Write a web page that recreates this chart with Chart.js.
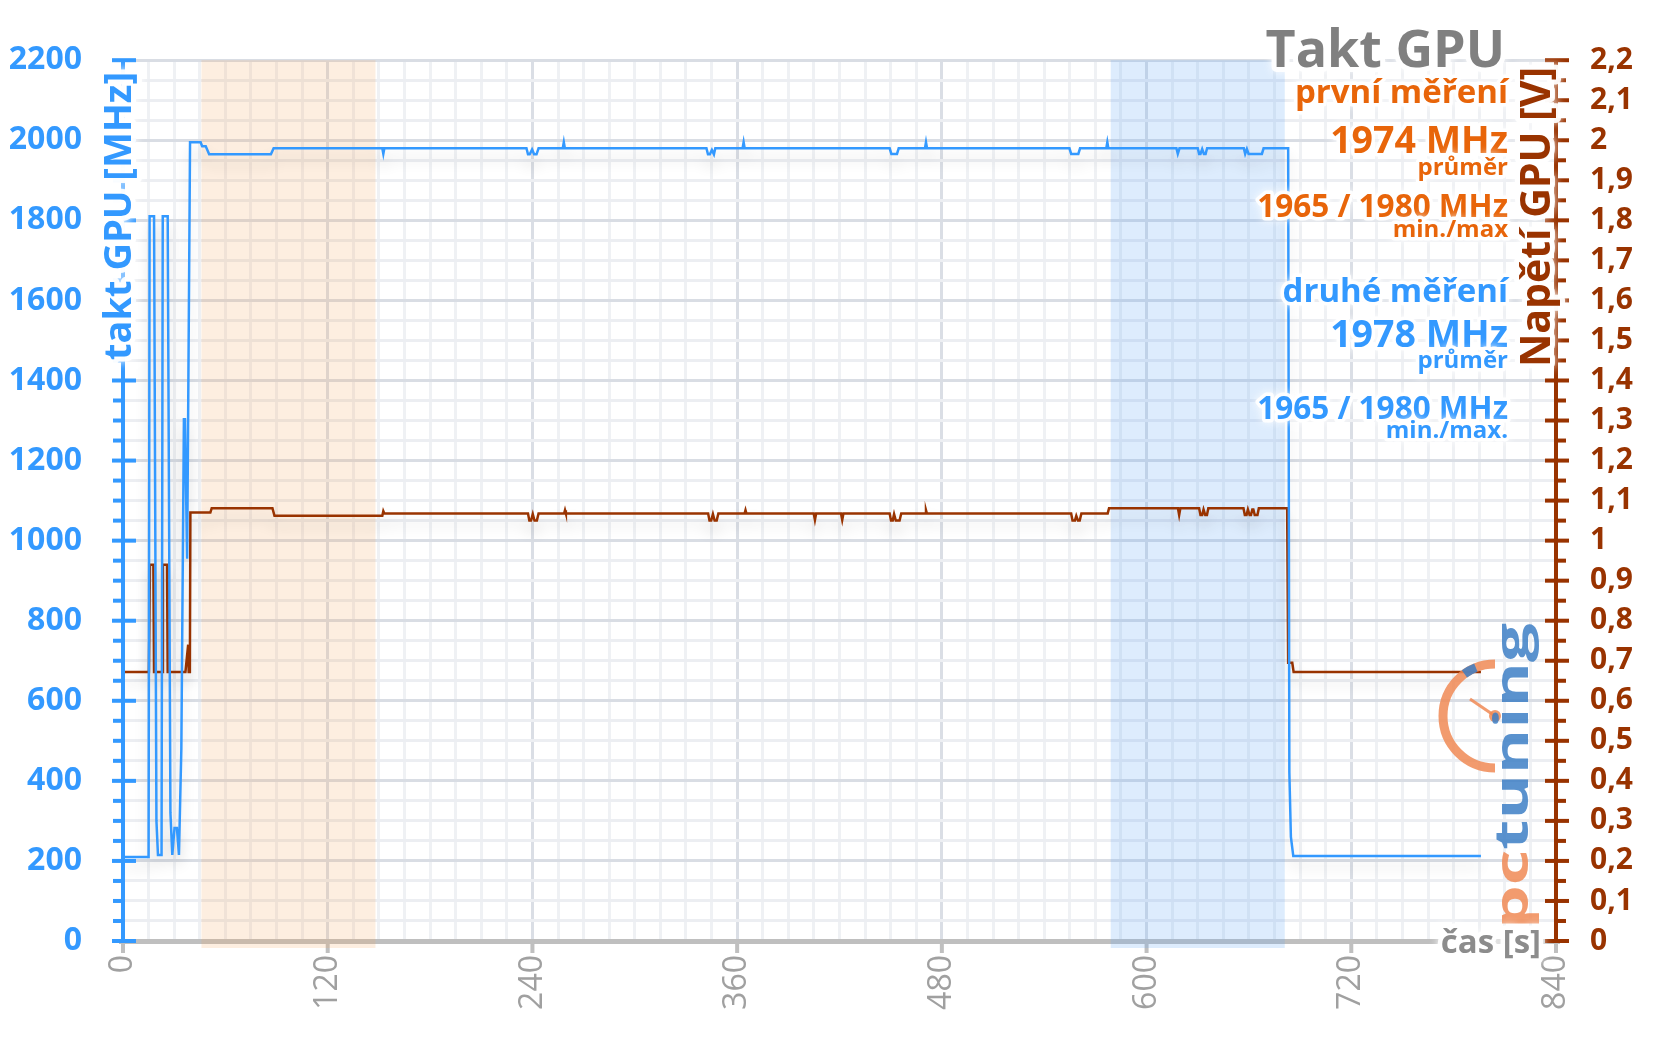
<!DOCTYPE html>
<html>
<head>
<meta charset="utf-8">
<title>Takt GPU</title>
<script src="https://cdn.jsdelivr.net/npm/chart.js@4/dist/chart.umd.min.js"></script>
<style>
  html, body { margin: 0; padding: 0; background: #fff; }
  #graf { width: 1656px; height: 1044px; position: relative; }
</style>
</head>
<body>
<div id="graf"><canvas id="c"></canvas></div>
<script>
// takt GPU [MHz] v case [s]
var casTakt = [0, 15, 15.6, 18.2, 19.6, 20.5, 22.6, 23.3, 26.2, 27.8, 28.9, 30.2, 31.6, 32.8, 34.2, 35.7, 36.3, 37.6, 39.3,
  45.5, 46.4, 48.5, 50.5, 86.7, 88.3, 152, 152.6, 153.2, 236.5, 237.4, 238.4, 239.8, 241, 242.4, 243.6,
  257.8, 258.4, 259, 342, 342.9, 344, 345.2, 346.4, 347.2, 363.2, 363.8, 364.4, 449.4, 450.4, 453.7, 454.7,
  470.1, 470.7, 471.3, 554.8, 555.8, 560, 561, 576.4, 577, 577.6, 617.5, 618.3, 619.3,
  630, 630.8, 631.6, 632.6, 633.6, 634.6, 635.5, 657, 657.8, 658.8, 659.8, 667.6, 668.6,
  683, 683.7, 684.6, 686, 796]
var taktMHz = [210, 210, 1810, 1810, 300, 215, 215, 1810, 1810, 320, 215, 282, 282, 215, 480, 1303, 1303, 955, 1995,
  1995, 1985, 1985, 1965, 1965, 1980, 1980, 1966, 1980, 1980, 1965, 1965, 1977, 1965, 1965, 1980,
  1980, 1995, 1980, 1980, 1965, 1965, 1976, 1965, 1980, 1980, 1995, 1980, 1980, 1966, 1966, 1980,
  1980, 1995, 1980, 1980, 1966, 1966, 1980, 1980, 1995, 1980, 1980, 1966, 1980,
  1980, 1966, 1966, 1978, 1966, 1966, 1980, 1980, 1966, 1978, 1966, 1966, 1980,
  1980, 420, 260, 212, 212]

// napeti GPU [V] v case [s]
var casNapeti = [0, 15.2, 15.8, 17.8, 18.2, 23, 23.4, 25.8, 26.2, 36.6, 38.2, 38.5, 39.2, 39.5,
  51.2, 52, 87.6, 88.8, 152, 152.6, 153.2, 237.4, 238.2, 239.2, 240.2, 241.2, 242.6, 243.6,
  258.6, 259.1, 259.6, 343, 343.8, 344.8, 345.8, 346.8, 348, 349, 364.4, 364.9, 365.4,
  404.9, 405.6, 406.3, 420.9, 421.6, 422.3, 449.4, 450.2, 451.2, 452, 453, 455.2, 456.2,
  470.2, 470.7, 471.2, 555.8, 556.6, 558, 558.8, 559.8, 560.8, 561.8, 577.2, 578,
  618.4, 619.1, 619.8, 630.8, 631.6, 632.6, 633.4, 634.4, 635.4, 636.2,
  656.8, 657.6, 658.6, 659.4, 660.4, 661.2, 662, 662.6, 663.4, 665, 665.8,
  682.4, 683, 685.4, 686.2, 796]
var napetiV = [0.672, 0.672, 0.94, 0.94, 0.672, 0.672, 0.94, 0.94, 0.672, 0.672, 0.74, 0.672, 0.672, 1.07,
  1.07, 1.081, 1.081, 1.062, 1.062, 1.074, 1.068, 1.068, 1.05, 1.05, 1.066, 1.05, 1.05, 1.068,
  1.068, 1.076, 1.068, 1.068, 1.05, 1.05, 1.066, 1.05, 1.05, 1.068, 1.068, 1.076, 1.068,
  1.068, 1.052, 1.068, 1.068, 1.052, 1.068, 1.068, 1.05, 1.05, 1.066, 1.05, 1.05, 1.068,
  1.068, 1.076, 1.068, 1.068, 1.05, 1.05, 1.062, 1.05, 1.05, 1.068, 1.068, 1.081,
  1.081, 1.064, 1.081, 1.081, 1.064, 1.064, 1.078, 1.064, 1.064, 1.081,
  1.081, 1.064, 1.064, 1.078, 1.064, 1.064, 1.078, 1.078, 1.064, 1.064, 1.081,
  1.081, 0.695, 0.695, 0.672, 0.672]

// zvyraznene useky mereni [s]
var pasmaOd = [46, 579]
var pasmaDo = [148, 681]

var nadpis = 'Takt GPU'
var prvniMereni = ['první měření', '1974 MHz', 'průměr', '1965 / 1980 MHz', 'min./max']
var druheMereni = ['druhé měření', '1978 MHz', 'průměr', '1965 / 1980 MHz', 'min./max.']
var osaTakt = 'takt GPU [MHz]'
var osaNapeti = 'Napětí GPU [V]'
var osaCas = 'čas [s]'

var MODRA = '#3399ff', HNEDA = '#993300', ORANZ = '#e8650a', SEDA = '#808080'
var FONT = "'Open Sans', 'Noto Sans', sans-serif"

function body(cas, hodnoty) {
  return cas.map(function (t, i) { return { x: t, y: hodnoty[i] } })
}

function jeHlavni(v, krok) {
  return Math.abs(v / krok - Math.round(v / krok)) < 1e-6
}

function haloText(ctx, text, x, y, sirka) {
  ctx.save()
  ctx.lineJoin = 'round'
  ctx.strokeStyle = 'rgba(255,255,255,0.92)'
  ctx.lineWidth = sirka || 8
  ctx.shadowColor = '#fff'
  ctx.shadowBlur = 8
  ctx.strokeText(text, x, y)
  ctx.restore()
  ctx.fillText(text, x, y)
}

var pozadi = {
  id: 'pozadi',
  beforeDatasetsDraw: function (chart) {
    var ctx = chart.ctx, ca = chart.chartArea, sx = chart.scales.x
    ctx.save()
    // osa x
    ctx.fillStyle = '#bfbfbf'
    ctx.fillRect(ca.left - 4, ca.bottom - 2, ca.right - ca.left + 8, 5)
    sx.ticks.forEach(function (t) {
      if (jeHlavni(t.value, 120)) ctx.fillRect(sx.getPixelForValue(t.value) - 2, ca.bottom, 4, 12)
    })
    // pasma
    var barvy = ['rgba(247,170,100,0.2)', 'rgba(100,170,245,0.22)']
    for (var i = 0; i < pasmaOd.length; i++) {
      var x1 = sx.getPixelForValue(pasmaOd[i]), x2 = sx.getPixelForValue(pasmaDo[i])
      ctx.fillStyle = barvy[i]
      ctx.fillRect(x1, ca.top, x2 - x1, ca.bottom - ca.top + 7)
    }
    ctx.restore()
  },
  beforeDatasetDraw: function (chart) {
    var ctx = chart.ctx
    ctx.save()
    ctx.shadowColor = 'rgba(0,0,0,0.16)'
    ctx.shadowBlur = 14
    ctx.shadowOffsetY = 10
  },
  afterDatasetDraw: function (chart) {
    chart.ctx.restore()
  }
}

var popis = {
  id: 'popis',
  afterDatasetsDraw: function (chart) {
    var ctx = chart.ctx, ca = chart.chartArea
    var sy = chart.scales.y, sy2 = chart.scales.y2
    ctx.save()

    // logo
    ctx.save()
    ctx.globalAlpha = 0.85
    ctx.strokeStyle = '#f08a55'
    ctx.lineWidth = 9
    ctx.beginPath()
    ctx.arc(1495, 716, 52, Math.PI / 2, Math.PI * 1.5)
    ctx.stroke()
    ctx.strokeStyle = '#3d7fc6'
    ctx.beginPath()
    ctx.arc(1495, 716, 52, Math.PI * 1.3, Math.PI * 1.38)
    ctx.stroke()
    ctx.strokeStyle = '#f08a55'
    ctx.lineWidth = 3
    ctx.beginPath()
    ctx.moveTo(1495, 716)
    ctx.lineTo(1470, 699)
    ctx.stroke()
    ctx.fillStyle = '#f08a55'
    ctx.beginPath()
    ctx.arc(1495, 716, 6, 0, Math.PI * 2)
    ctx.fill()
    ctx.translate(1528, 929)
    ctx.rotate(-Math.PI / 2)
    ctx.font = 'bold 46px ' + FONT
    var wPc = ctx.measureText('pc').width, wTun = ctx.measureText('tuning').width
    ctx.scale(306 / (wPc + wTun), 1)
    ctx.fillStyle = '#f08a55'
    ctx.fillText('pc', 0, 0)
    ctx.fillStyle = '#3d7fc6'
    ctx.fillText('tuning', wPc, 0)
    ctx.restore()

    // leva osa
    ctx.fillStyle = MODRA
    ctx.fillRect(ca.left - 2, ca.top, 4, ca.bottom - ca.top + 2)
    sy.ticks.forEach(function (t) {
      var py = sy.getPixelForValue(t.value)
      if (jeHlavni(t.value, 200)) ctx.fillRect(ca.left - 11, py - 2, 24, 4)
      else ctx.fillRect(ca.left - 10, py - 2, 10, 4)
    })
    // prava osa
    ctx.fillStyle = HNEDA
    ctx.fillRect(ca.right - 2, ca.top, 4, ca.bottom - ca.top + 2)
    sy2.ticks.forEach(function (t) {
      var py = sy2.getPixelForValue(t.value)
      if (jeHlavni(t.value, 0.1)) ctx.fillRect(ca.right - 11, py - 2, 24, 4)
      else ctx.fillRect(ca.right, py - 2, 10, 4)
    })

    // cas [s]
    ctx.textAlign = 'right'
    ctx.textBaseline = 'alphabetic'
    ctx.font = 'bold 33px ' + FONT
    ctx.fillStyle = '#8c8c8c'
    haloText(ctx, osaCas, 1541, 953, 9)

    // nazvy os
    ctx.save()
    ctx.translate(131, 216)
    ctx.rotate(-Math.PI / 2)
    ctx.textAlign = 'center'
    ctx.font = 'bold 38px ' + FONT
    ctx.fillStyle = MODRA
    haloText(ctx, osaTakt, 0, 0, 10)
    ctx.restore()

    ctx.save()
    ctx.translate(1550, 217)
    ctx.rotate(-Math.PI / 2)
    ctx.textAlign = 'center'
    ctx.font = 'bold 41px ' + FONT
    ctx.fillStyle = HNEDA
    haloText(ctx, osaNapeti, 0, 0, 10)
    ctx.restore()

    // nadpis a souhrn
    var x = 1508
    ctx.textAlign = 'right'
    ctx.fillStyle = SEDA
    ctx.font = 'bold 52px ' + FONT
    haloText(ctx, nadpis, 1505, 67, 10)

    var velikosti = [33, 37.5, 24, 31.5, 24]
    var radky1 = [103, 153, 175, 217, 237]
    var radky2 = [302, 347, 368, 419, 438]
    ctx.fillStyle = ORANZ
    prvniMereni.forEach(function (s, i) {
      ctx.font = 'bold ' + velikosti[i] + 'px ' + FONT
      haloText(ctx, s, x, radky1[i], 7)
    })
    ctx.fillStyle = MODRA
    druheMereni.forEach(function (s, i) {
      ctx.font = 'bold ' + velikosti[i] + 'px ' + FONT
      haloText(ctx, s, x, radky2[i], 7)
    })
    ctx.restore()
  }
}

Chart.defaults.font.family = FONT

new Chart(document.getElementById('c'), {
  type: 'line',
  data: {
    datasets: [{
      label: 'takt',
      data: body(casTakt, taktMHz),
      yAxisID: 'y',
      borderColor: MODRA,
      borderWidth: 2.5,
      pointRadius: 0,
      tension: 0,
      fill: false
    }, {
      label: 'napětí',
      data: body(casNapeti, napetiV),
      yAxisID: 'y2',
      borderColor: HNEDA,
      borderWidth: 2.5,
      pointRadius: 0,
      tension: 0,
      fill: false
    }]
  },
  options: {
    responsive: true,
    maintainAspectRatio: false,
    animation: false,
    layout: { padding: { top: 56, left: 0, right: 0, bottom: 0 } },
    plugins: { legend: { display: false }, tooltip: { enabled: false } },
    scales: {
      x: {
        type: 'linear', min: 0, max: 840,
        afterFit: function (s) { s.height = 103 },
        border: { display: false },
        grid: {
          drawTicks: false, lineWidth: 3,
          color: function (c) { return c.tick && jeHlavni(c.tick.value, 120) ? '#dadee5' : '#eff1f4' }
        },
        ticks: {
          stepSize: 15, autoSkip: false, minRotation: 90, maxRotation: 90, padding: 14,
          color: '#a0a0a0', font: { size: 32 },
          callback: function (v) { return jeHlavni(v, 120) ? String(v) : '' }
        }
      },
      y: {
        position: 'left', min: 0, max: 2200,
        afterFit: function (s) { s.width = 123 },
        border: { display: false },
        grid: {
          drawTicks: false, lineWidth: 3,
          color: function (c) { return c.tick && jeHlavni(c.tick.value, 200) ? '#d9dde4' : '#eceef2' }
        },
        ticks: {
          stepSize: 50, autoSkip: false, padding: 41, color: MODRA, font: { size: 32, weight: 'bold' },
          callback: function (v) { return jeHlavni(v, 200) ? String(v) : '' }
        }
      },
      y2: {
        position: 'right', min: 0, max: 2.2,
        afterFit: function (s) { s.width = 100 },
        border: { display: false },
        grid: { drawOnChartArea: false, drawTicks: false },
        ticks: {
          stepSize: 0.05, autoSkip: false, padding: 34, color: HNEDA, font: { size: 30, weight: 'bold' },
          callback: function (v) { return jeHlavni(v, 0.1) ? String(Math.round(v * 10) / 10).replace('.', ',') : '' }
        }
      }
    }
  },
  plugins: [pozadi, popis]
})
</script>
</body>
</html>
